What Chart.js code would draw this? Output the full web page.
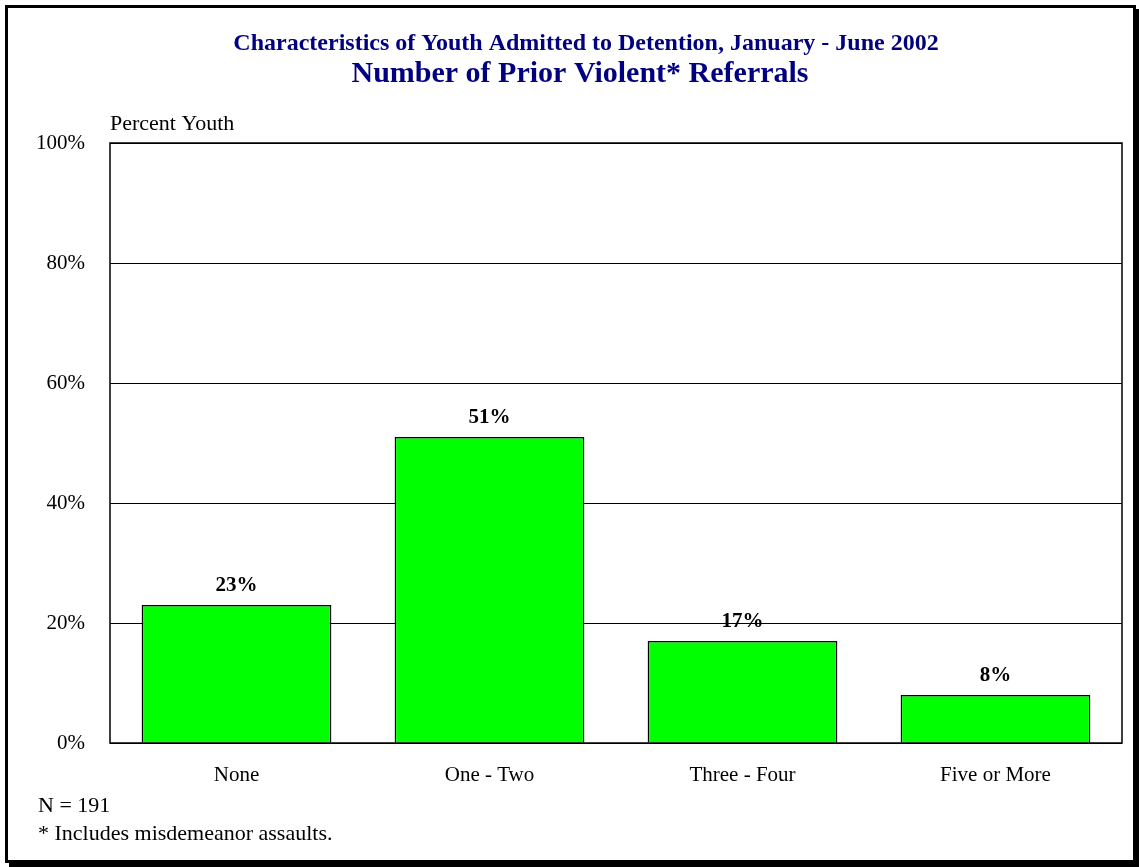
<!DOCTYPE html>
<html>
<head>
<meta charset="utf-8">
<script src="https://cdn.jsdelivr.net/npm/chart.js@4"></script>
<style>
  html, body { margin: 0; padding: 0; background: #fff; }
  #wrap { position: relative; width: 1139px; height: 867px; }
  #frame {
    position: absolute; left: 5px; top: 5px; width: 1125px; height: 852px;
    border: 3px solid #000; box-shadow: 4px 4px 0 #000;
  }
  canvas { position: absolute; left: 0; top: 0; }
</style>
</head>
<body>
<div id="wrap">
  <div id="frame"></div>
  <canvas id="chart" width="1139" height="867"></canvas>
</div>
<script>
const categories = ['None', 'One - Two', 'Three - Four', 'Five or More']
const percentYouth = [23, 51, 17, 8]
const yTicks = [0, 20, 40, 60, 80, 100]

const titleLine1 = 'Characteristics of Youth Admitted to Detention, January - June 2002'
const titleLine2 = 'Number of Prior Violent* Referrals'
const notes = ['N = 191', '* Includes misdemeanor assaults.']

const serif = '"Liberation Serif", "Times New Roman", serif'

// titles, axis caption, footnotes, plot border and bar labels
const extras = {
  id: 'extras',
  afterDraw(chart) {
    const ctx = chart.ctx
    const area = chart.chartArea
    ctx.save()
    ctx.strokeStyle = '#000'
    ctx.lineWidth = 1.5
    ctx.strokeRect(area.left, area.top, area.right - area.left, area.bottom - area.top)

    ctx.textAlign = 'center'
    ctx.textBaseline = 'middle'
    ctx.fillStyle = '#000080'
    ctx.font = 'bold 24px ' + serif
    ctx.fillText(titleLine1, 586, 44)
    ctx.font = 'bold 30px ' + serif
    ctx.fillText(titleLine2, 580, 74)

    ctx.fillStyle = '#000'
    ctx.textAlign = 'left'
    ctx.font = '22px ' + serif
    ctx.fillText('Percent Youth', 110, 124)
    ctx.fillText(notes[0], 38, 806)
    ctx.fillText(notes[1], 38, 834)

    ctx.textAlign = 'center'
    ctx.font = 'bold 21px ' + serif
    chart.getDatasetMeta(0).data.forEach((bar, i) => {
      ctx.fillText(percentYouth[i] + '%', bar.x, bar.y - 19)
    })
    ctx.restore()
  },
}

new Chart(document.getElementById('chart'), {
  type: 'bar',
  data: {
    labels: categories,
    datasets: [
      {
        data: percentYouth,
        backgroundColor: '#00ff00',
        borderColor: '#000',
        borderWidth: 1.5,
        barPercentage: 0.75,
        categoryPercentage: 1,
      },
    ],
  },
  options: {
    responsive: false,
    animation: false,
    layout: { padding: { left: 10, top: 143, right: 17, bottom: 74 } },
    plugins: {
      legend: { display: false },
      title: { display: false },
      tooltip: { enabled: false },
    },
    scales: {
      x: {
        grid: { display: false },
        border: { display: false },
        ticks: { color: '#000', font: { family: serif, size: 21 }, padding: 12 },
        afterFit: (s) => { s.height = 50 },
      },
      y: {
        min: 0,
        max: 100,
        afterBuildTicks: (s) => { s.ticks = yTicks.map((v) => ({ value: v })) },
        grid: { color: '#000', lineWidth: 1, drawTicks: false },
        border: { display: false },
        ticks: {
          color: '#000',
          font: { family: serif, size: 21 },
          padding: 25,
          callback: (v) => v + '%',
        },
        afterFit: (s) => { s.width = 100 },
      },
    },
  },
  plugins: [extras],
})
</script>
</body>
</html>
